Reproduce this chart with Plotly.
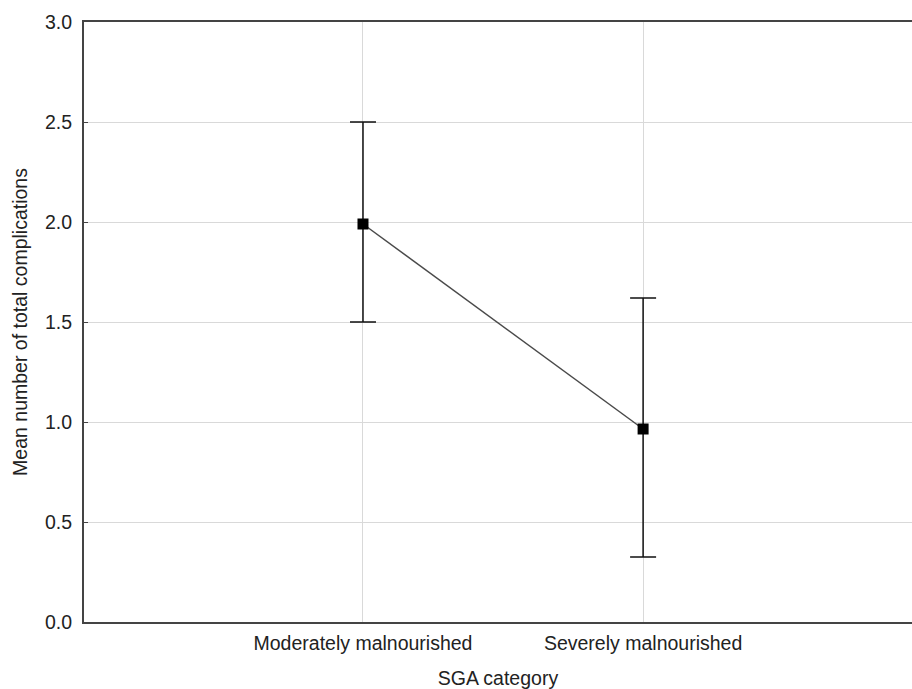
import plotly.graph_objects as go

# SGA categories and mean total complications with interval limits
categories = ["Moderately malnourished", "Severely malnourished"]
means = [1.99, 0.965]
upper = [2.50, 1.62]
lower = [1.50, 0.325]

err_plus = [u - m for u, m in zip(upper, means)]
err_minus = [m - l for m, l in zip(means, lower)]

x_pos = list(range(len(categories)))

FONT_SIZE = 19.5

fig = go.Figure()
fig.add_trace(go.Scatter(
    x=x_pos,
    y=means,
    mode="lines+markers",
    line=dict(color="#4a4a4a", width=1.5),
    marker=dict(symbol="square", size=11, color="black"),
    error_y=dict(
        type="data",
        symmetric=False,
        array=err_plus,
        arrayminus=err_minus,
        color="#111111",
        thickness=1.5,
        width=13,
    ),
    showlegend=False,
))

fig.update_layout(
    width=912,
    height=689,
    margin=dict(l=84, r=0, t=22, b=67, autoexpand=False),
    paper_bgcolor="white",
    plot_bgcolor="white",
    font=dict(family="Liberation Sans, Arial, sans-serif", size=FONT_SIZE, color="#222222"),
)

fig.update_xaxes(
    range=[-0.996, 1.96],
    tickmode="array",
    tickvals=x_pos,
    ticktext=categories,
    showgrid=True,
    gridcolor="#d9d9d9",
    gridwidth=1,
    zeroline=False,
    showline=True,
    linecolor="#444444",
    linewidth=2,
    mirror=True,
    ticks="",
    ticklabelstandoff=3,
    automargin=False,
    title=dict(text="SGA category", font=dict(size=FONT_SIZE), standoff=19),
)

fig.update_yaxes(
    range=[0, 3],
    tickmode="array",
    tickvals=[0, 0.5, 1.0, 1.5, 2.0, 2.5, 3.0],
    ticktext=["0.0", "0.5", "1.0", "1.5", "2.0", "2.5", "3.0"],
    showgrid=True,
    gridcolor="#d9d9d9",
    gridwidth=1,
    zeroline=False,
    showline=True,
    linecolor="#444444",
    linewidth=2,
    ticks="inside",
    ticklen=4,
    tickcolor="#444444",
    ticklabelstandoff=6,
    automargin=False,
    title=dict(text="Mean number of total complications", font=dict(size=FONT_SIZE), standoff=12),
)

fig.write_html("out.html")
